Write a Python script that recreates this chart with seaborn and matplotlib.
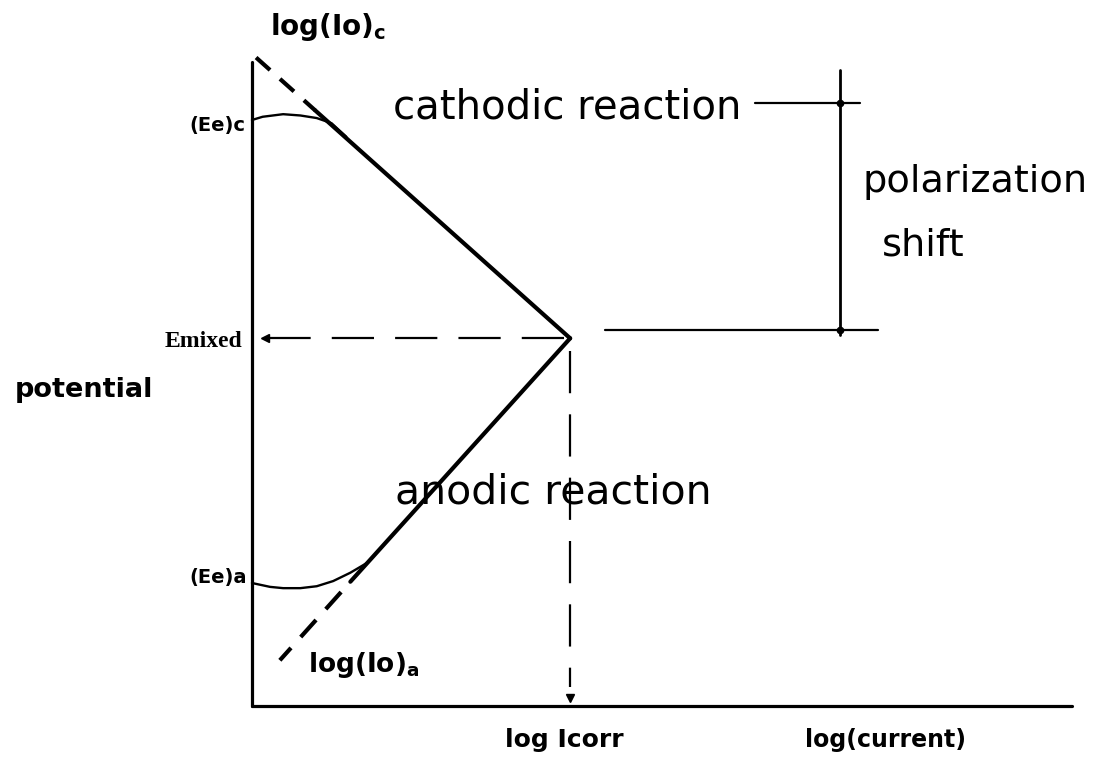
import matplotlib
matplotlib.use("Agg")
import matplotlib.pyplot as plt
import seaborn as sns
import pandas as pd

# ---- schematic values (potential vs. log current, arbitrary units) ----
E_mixed = 5.71
log_i_corr = 3.88

# cathodic Tafel line: dashed extrapolation, then solid part to the crossing
cathodic_ext_x = [0.05, 0.77]
cathodic_ext_y = [10.07, 9.25]
cathodic_tafel_x = [0.77, 3.88]
cathodic_tafel_y = [9.25, 5.71]

# anodic Tafel line
anodic_ext_x = [0.34, 1.20]
anodic_ext_y = [0.71, 1.93]
anodic_tafel_x = [1.20, 3.88]
anodic_tafel_y = [1.93, 5.71]

# polarization curves leaving the equilibrium potentials
cathodic_curve_x = [0.0, 0.13, 0.38, 0.59, 0.79, 0.97, 1.15]
cathodic_curve_y = [9.10, 9.15, 9.19, 9.17, 9.13, 9.05, 8.84]
anodic_curve_x = [0.0, 0.22, 0.38, 0.59, 0.79, 0.99, 1.20, 1.40]
anodic_curve_y = [1.91, 1.85, 1.83, 1.83, 1.86, 1.94, 2.07, 2.22]

# polarization-shift bracket
bracket_x = 7.17
bracket_span = [9.88, 5.76]
shift_top = 9.36
shift_bottom = 5.84
top_leader_x = [6.13, 7.42]
bottom_leader_x = [4.30, 7.63]

# projection guides
mixed_guide_x = [3.80, 0.22]
corr_guide_y = [5.52, 0.30]

sns.set_theme(style="white")
plt.rcParams["font.family"] = ["DejaVu Sans"]

fig = plt.figure(figsize=(10.96, 7.63), dpi=100)
ax = fig.add_axes([0.2299, 0.0747, 0.7482, 0.8440])
ax.set_xlim(0, 10)
ax.set_ylim(0, 10)
ax.set_xticks([])
ax.set_yticks([])
for side in ("top", "right"):
    ax.spines[side].set_visible(False)
for side in ("left", "bottom"):
    ax.spines[side].set_linewidth(2.3)
    ax.spines[side].set_color("black")
    ax.spines[side].set_capstyle("round")

ink = "black"

def seg(xs, ys, **kw):
    df = pd.DataFrame({"x": xs, "y": ys})
    sns.lineplot(data=df, x="x", y="y", ax=ax, estimator=None, sort=False,
                 color=ink, clip_on=False, **kw)

# Tafel lines
seg(cathodic_ext_x, cathodic_ext_y, lw=3.0, linestyle=(0, (4.5, 3.2)))
seg(cathodic_tafel_x, cathodic_tafel_y, lw=3.0, solid_capstyle="round")
seg(anodic_ext_x, anodic_ext_y, lw=3.0, linestyle=(1.5, (5.5, 3.5)))
seg(anodic_tafel_x, anodic_tafel_y, lw=3.0, solid_capstyle="round")

# curved polarization branches
seg(cathodic_curve_x, cathodic_curve_y, lw=1.7)
seg(anodic_curve_x, anodic_curve_y, lw=1.7)

# dashed guides to the axes
seg(mixed_guide_x, [E_mixed, E_mixed], lw=1.6, linestyle=(0, (19, 9.5)))
ax.plot([0.16], [E_mixed], marker="<", ms=6, color=ink, clip_on=False)
seg([log_i_corr, log_i_corr], corr_guide_y, lw=1.6, linestyle=(0, (19, 9.5)))
ax.plot([log_i_corr], [0.12], marker="v", ms=6, color=ink, clip_on=False)

# polarization-shift bracket
seg([bracket_x, bracket_x], bracket_span, lw=2.0)
seg(top_leader_x, [shift_top, shift_top], lw=1.6)
seg(bottom_leader_x, [shift_bottom, shift_bottom], lw=1.6)
ax.plot([bracket_x, bracket_x], [shift_top, shift_bottom], "o", ms=4.5,
        color=ink, clip_on=False)

# labels
bold = dict(fontweight="bold", color=ink, va="baseline", ha="left", clip_on=False)
light = dict(color=ink, va="baseline", ha="left", clip_on=False)

ax.text(0.22, 10.42, r"log(Io)$_{\mathbf{c}}$", fontsize=20, **bold)
ax.text(-0.76, 8.93, "(Ee)c", fontsize=14, **bold)
ax.text(-0.76, 1.91, "(Ee)a", fontsize=14, **bold)
ax.text(-1.06, 5.57, "Emixed", fontsize=17, family="Liberation Serif",
        fontweight="bold", color=ink, va="baseline", ha="left")
ax.text(-2.89, 4.80, "potential", fontsize=19.5, **bold)
ax.text(0.68, 0.53, r"log(Io)$_{\mathbf{a}}$", fontsize=19, **bold)
ax.text(3.09, -0.64, "log Icorr", fontsize=18, **bold)
ax.text(6.74, -0.64, "log(current)", fontsize=17, **bold)

ax.text(1.72, 9.13, "cathodic reaction", fontsize=29, **light)
ax.text(1.74, 3.15, "anodic reaction", fontsize=29.5, **light)
ax.text(7.44, 7.98, "polarization", fontsize=27.5, **light)
ax.text(7.68, 7.00, "shift", fontsize=27.5, **light)

fig.savefig("out.png", dpi=100, facecolor="white")
